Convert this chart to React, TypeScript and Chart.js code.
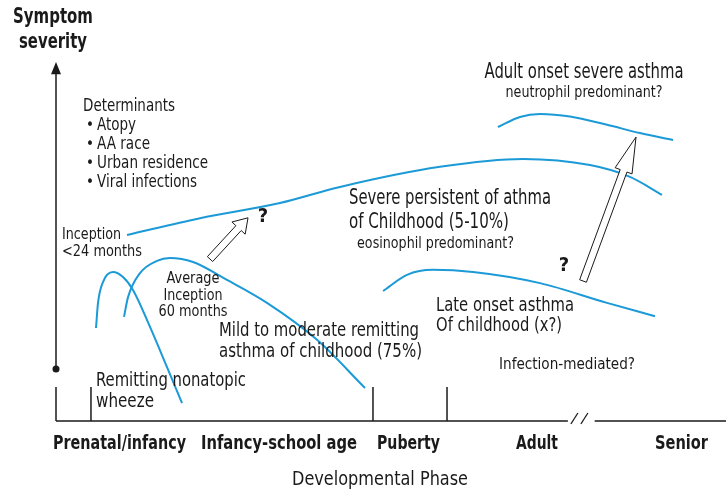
import { useEffect, useRef } from 'react';
import { Chart, registerables } from 'chart.js';

Chart.register(...registerables);

type P = { x: number; y: number };

// ---- Data (x: developmental time 0..100, y: symptom severity 0..100) ----
const remittingWheeze: P[] = [
  { x: 5.97, y: 25.9 }, { x: 6.27, y: 32.9 }, { x: 7.01, y: 38.7 }, { x: 8.51, y: 41.5 },
  { x: 10.0, y: 40.1 }, { x: 11.49, y: 36.5 }, { x: 14.03, y: 26.2 }, { x: 16.57, y: 15.0 },
  { x: 18.81, y: 5.0 },
];
const mildRemitting: P[] = [
  { x: 10.15, y: 29.0 }, { x: 10.75, y: 34.5 }, { x: 12.54, y: 41.2 }, { x: 15.07, y: 44.6 },
  { x: 17.01, y: 45.4 }, { x: 20.45, y: 44.3 }, { x: 25.52, y: 39.3 }, { x: 31.49, y: 32.9 },
  { x: 38.96, y: 22.6 }, { x: 46.12, y: 9.2 },
];
const severePersistent: P[] = [
  { x: 10.6, y: 51.8 }, { x: 21.49, y: 56.5 }, { x: 33.43, y: 60.7 }, { x: 42.39, y: 65.2 },
  { x: 57.31, y: 70.8 }, { x: 69.7, y: 73.0 }, { x: 79.7, y: 71.3 }, { x: 85.67, y: 68.0 },
  { x: 90.45, y: 63.0 },
];
const adultOnset: P[] = [
  { x: 65.97, y: 81.9 }, { x: 69.25, y: 84.7 }, { x: 72.24, y: 85.5 }, { x: 76.72, y: 84.8 },
  { x: 82.24, y: 82.5 }, { x: 87.16, y: 80.2 }, { x: 92.09, y: 78.3 },
];
const lateOnset: P[] = [
  { x: 48.81, y: 36.2 }, { x: 52.39, y: 40.7 }, { x: 56.27, y: 42.1 }, { x: 62.24, y: 41.5 },
  { x: 72.24, y: 38.4 }, { x: 82.24, y: 32.9 }, { x: 89.4, y: 29.2 },
];

// Phase axis
const phaseLabels = ['Prenatal/infancy', 'Infancy-school age', 'Puberty', 'Adult', 'Senior'];
const phaseCenters = [9.48, 33.28, 52.61, 71.79, 93.36];
const phaseTicks = [0, 5.22, 47.31, 58.36];
const axisBreak = [76.4, 80.4];

// Transition arrows (tail -> tip)
const transitionArrows = [
  { from: { x: 22.99, y: 45.1 }, to: { x: 28.66, y: 56.6 }, headLen: 14 },
  { from: { x: 78.66, y: 39.0 }, to: { x: 86.57, y: 79.1 }, headLen: 36 },
];

// t: text, x/y: data position, size: font px, w: rendered width px
type Label = { t: string; x: number; y: number; size: number; w?: number; bold?: boolean; align?: CanvasTextAlign };
const labels: Label[] = [
  { t: 'Symptom', x: -0.45, y: 112.3, size: 21, w: 80, bold: true, align: 'center' },
  { t: 'severity', x: -0.45, y: 105.3, size: 21, w: 68, bold: true, align: 'center' },
  { t: 'Determinants', x: 4.03, y: 87.5, size: 17, w: 92 },
  { t: '•', x: 4.48, y: 82.2, size: 15 },
  { t: 'Atopy', x: 6.12, y: 82.2, size: 17, w: 39 },
  { t: '•', x: 4.48, y: 76.9, size: 15 },
  { t: 'AA race', x: 6.12, y: 76.9, size: 17, w: 53 },
  { t: '•', x: 4.48, y: 71.6, size: 15 },
  { t: 'Urban residence', x: 6.12, y: 71.6, size: 17, w: 111 },
  { t: '•', x: 4.48, y: 66.3, size: 15 },
  { t: 'Viral infections', x: 6.12, y: 66.3, size: 17, w: 100 },
  { t: 'Inception', x: 0.9, y: 51.8, size: 16, w: 59 },
  { t: '<24 months', x: 0.9, y: 47.1, size: 16, w: 80 },
  { t: 'Average', x: 20.45, y: 39.6, size: 16, w: 53, align: 'center' },
  { t: 'Inception', x: 20.45, y: 34.8, size: 16, w: 59, align: 'center' },
  { t: '60 months', x: 20.45, y: 30.4, size: 16, w: 69, align: 'center' },
  { t: 'Mild to moderate remitting', x: 24.33, y: 25.1, size: 20, w: 200 },
  { t: 'asthma of childhood (75%)', x: 24.33, y: 19.2, size: 20, w: 203 },
  { t: 'Remitting nonatopic', x: 5.97, y: 11.1, size: 20, w: 150 },
  { t: 'wheeze', x: 5.97, y: 5.3, size: 20, w: 58 },
  { t: 'Severe persistent of athma', x: 43.73, y: 62.1, size: 21, w: 202 },
  { t: 'of Childhood (5-10%)', x: 43.73, y: 55.4, size: 21, w: 160 },
  { t: 'eosinophil predominant?', x: 44.93, y: 49.3, size: 15, w: 157 },
  { t: 'Adult onset severe asthma', x: 78.81, y: 97.2, size: 21, w: 199, align: 'center' },
  { t: 'neutrophil predominant?', x: 78.81, y: 91.4, size: 15, w: 157, align: 'center' },
  { t: 'Late onset asthma', x: 56.72, y: 32.0, size: 20, w: 138 },
  { t: 'Of childhood (x?)', x: 56.72, y: 26.5, size: 20, w: 126 },
  { t: 'Infection-mediated?', x: 76.27, y: 15.6, size: 16, w: 136, align: 'center' },
  { t: '?', x: 30.9, y: 56.8, size: 20, bold: true, align: 'center' },
  { t: '?', x: 75.82, y: 43.2, size: 20, bold: true, align: 'center' },
  { t: 'Developmental Phase', x: 48.36, y: -16.4, size: 20, w: 176, align: 'center' },
];
const phaseWidths = [133, 156, 63, 42, 53];

const FAMILY = "'Liberation Sans Narrow', 'DejaVu Sans Condensed', 'Roboto Condensed', sans-serif";
const BLUE = '#1b9ad7';
const INK = '#1a1a1a';

function drawFitted(ctx: CanvasRenderingContext2D, t: string, x: number, y: number, w: number | undefined, align: CanvasTextAlign) {
  const m = ctx.measureText(t).width;
  const s = w ? w / m : 1;
  ctx.save();
  ctx.translate(x, y);
  ctx.scale(s, 1);
  ctx.textAlign = align;
  ctx.fillText(t, 0, 0);
  ctx.restore();
}

const diagramPlugin = {
  id: 'diagram',
  afterDatasetsDraw(chart: any) {
    const { ctx, scales } = chart;
    const X = (v: number) => scales.x.getPixelForValue(v);
    const Y = (v: number) => scales.y.getPixelForValue(v);
    ctx.save();
    ctx.strokeStyle = INK;
    ctx.fillStyle = INK;
    ctx.lineWidth = 1.5;

    // y axis with arrow and dot
    const ax = X(0);
    ctx.beginPath();
    ctx.moveTo(ax, Y(14.5));
    ctx.lineTo(ax, Y(97));
    ctx.stroke();
    ctx.beginPath();
    ctx.moveTo(ax, Y(100));
    ctx.lineTo(ax - 5, Y(96.6));
    ctx.lineTo(ax + 5, Y(96.6));
    ctx.closePath();
    ctx.fill();
    ctx.beginPath();
    ctx.arc(ax, Y(14.5), 3.5, 0, Math.PI * 2);
    ctx.fill();

    // x axis baseline with break
    const by = Y(0);
    ctx.beginPath();
    ctx.moveTo(X(0), by);
    ctx.lineTo(X(axisBreak[0]), by);
    ctx.moveTo(X(axisBreak[1]), by);
    ctx.lineTo(X(100), by);
    ctx.stroke();
    phaseTicks.forEach((t) => {
      ctx.beginPath();
      ctx.moveTo(X(t), by);
      ctx.lineTo(X(t), Y(9.5));
      ctx.stroke();
    });
    // break slashes
    ctx.lineWidth = 1.3;
    const bx0 = X(axisBreak[0]);
    [3, 13].forEach((dx) => {
      ctx.beginPath();
      ctx.moveTo(bx0 + dx, by + 3);
      ctx.lineTo(bx0 + dx + 7, by - 8);
      ctx.stroke();
    });

    // hollow arrows
    ctx.lineWidth = 1;
    transitionArrows.forEach((a) => {
      const tx = X(a.from.x), ty = Y(a.from.y), hx = X(a.to.x), hy = Y(a.to.y);
      const len = Math.hypot(hx - tx, hy - ty);
      const ux = (hx - tx) / len, uy = (hy - ty) / len;
      const nx = -uy, ny = ux;
      const sw = 3.6, hw = 9;
      const bx = hx - ux * a.headLen, byy = hy - uy * a.headLen;
      ctx.beginPath();
      ctx.moveTo(tx + nx * sw, ty + ny * sw);
      ctx.lineTo(bx + nx * sw, byy + ny * sw);
      ctx.lineTo(bx + nx * hw, byy + ny * hw);
      ctx.lineTo(hx, hy);
      ctx.lineTo(bx - nx * hw, byy - ny * hw);
      ctx.lineTo(bx - nx * sw, byy - ny * sw);
      ctx.lineTo(tx - nx * sw, ty - ny * sw);
      ctx.closePath();
      ctx.fillStyle = '#ffffff';
      ctx.fill();
      ctx.strokeStyle = INK;
      ctx.stroke();
    });

    // text
    ctx.fillStyle = INK;
    ctx.textBaseline = 'middle';
    labels.forEach((l) => {
      ctx.font = `${l.bold ? 'bold ' : ''}${l.size}px ${FAMILY}`;
      drawFitted(ctx, l.t, X(l.x), Y(l.y), l.w, l.align || 'left');
    });
    ctx.font = `bold 19px ${FAMILY}`;
    phaseLabels.forEach((p, i) => {
      drawFitted(ctx, p, X(phaseCenters[i]), Y(-6.4), phaseWidths[i], 'center');
    });
    ctx.restore();
  },
};

export default function App() {
  const ref = useRef<HTMLCanvasElement | null>(null);
  useEffect(() => {
    if (!ref.current) return;
    const series = [remittingWheeze, mildRemitting, severePersistent, adultOnset, lateOnset];
    const chart = new Chart(ref.current, {
      type: 'scatter',
      data: {
        datasets: series.map((d) => ({
          data: d,
          showLine: true,
          borderColor: BLUE,
          borderWidth: 2,
          pointRadius: 0,
          cubicInterpolationMode: 'monotone' as const,
          fill: false,
          clip: false as any,
        })),
      },
      options: {
        responsive: false,
        animation: false,
        devicePixelRatio: 1,
        layout: { padding: { left: 56, top: 62, right: 0, bottom: 71 } },
        plugins: { legend: { display: false }, tooltip: { enabled: false } },
        events: [],
        scales: {
          x: { type: 'linear', min: 0, max: 100, display: false },
          y: { type: 'linear', min: 0, max: 100, display: false },
        },
      },
      plugins: [diagramPlugin],
    });
    return () => chart.destroy();
  }, []);
  return (
    <div style={{ position: 'absolute', left: 0, top: 0, width: 726, height: 492, background: '#fff' }}>
      <canvas ref={ref} width={726} height={492} style={{ display: 'block' }} />
    </div>
  );
}
